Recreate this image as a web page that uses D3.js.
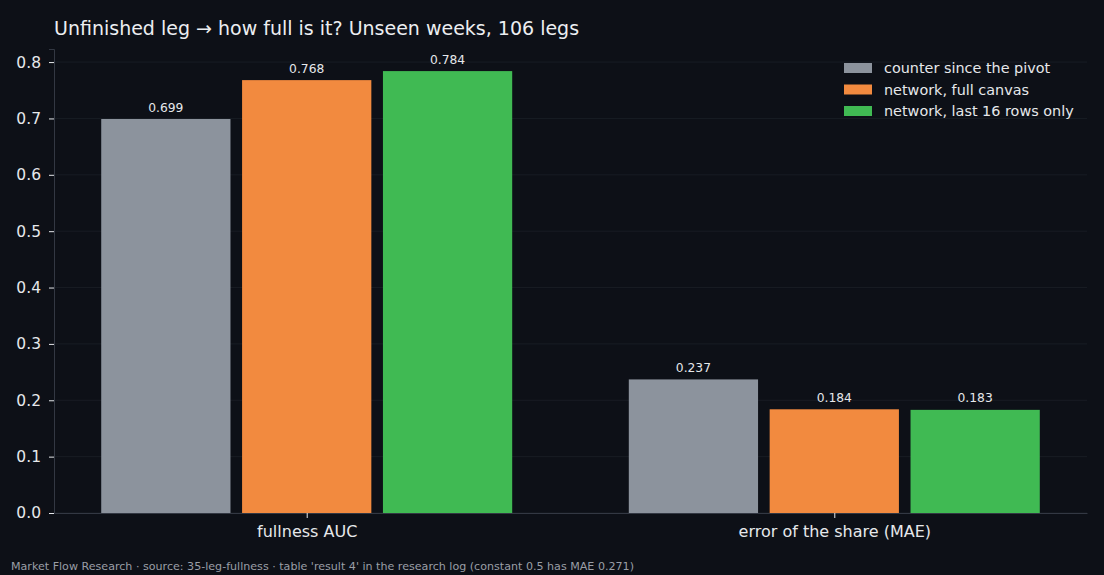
<!DOCTYPE html>
<html lang="en">
<head>
    <meta charset="utf-8">
    <title>Unfinished leg fullness</title>
    <style>
        html, body {
            margin: 0;
            padding: 0;
            background: #0d1017;
        }

        svg text {
            font-family: "DejaVu Sans", sans-serif;
        }
    </style>
</head>
<body>
<script src="https://cdn.jsdelivr.net/npm/d3@7/dist/d3.min.js"></script>
<script>
    // chart values
    const categories = ["fullness AUC", "error of the share (MAE)"];
    const seriesNames = ["counter since the pivot", "network, full canvas", "network, last 16 rows only"];
    const seriesColors = ["#8c939d", "#f28a3f", "#40ba53"];
    const seriesValues = [
        [0.699, 0.237],
        [0.768, 0.184],
        [0.784, 0.183]
    ];
    const yTicks = [0.0, 0.1, 0.2, 0.3, 0.4, 0.5, 0.6, 0.7, 0.8];

    const width = 1104, height = 575;
    const margin = {top: 49, right: 17, bottom: 62, left: 54};

    const svg = d3.select("body").append("svg")
        .attr("width", width)
        .attr("height", height)
        .style("display", "block");

    svg.append("rect")
        .attr("width", width)
        .attr("height", height)
        .attr("fill", "#0d1017");

    // bars sit at category index +- offset, like a grouped matplotlib bar plot
    const offset = 0.267, barWidth = 0.245;
    const x = d3.scaleLinear()
        .domain([-0.479, 1.479])
        .range([margin.left, width - margin.right]);

    const yMax = d3.max(seriesValues.flat()) * 1.05;
    const y = d3.scaleLinear()
        .domain([0, yMax])
        .range([height - margin.bottom, margin.top]);

    // grid
    svg.append("g")
        .selectAll("line")
        .data(yTicks)
        .join("line")
        .attr("x1", margin.left)
        .attr("x2", width - margin.right)
        .attr("y1", d => y(d))
        .attr("y2", d => y(d))
        .attr("stroke", "#181c24")
        .attr("stroke-width", 1);

    // bars
    const bars = [];
    seriesValues.forEach((vals, s) => {
        vals.forEach((v, c) => {
            bars.push({s, c, v, cx: c + (s - 1) * offset});
        });
    });

    svg.append("g")
        .selectAll("rect")
        .data(bars)
        .join("rect")
        .attr("x", d => x(d.cx - barWidth / 2))
        .attr("width", d => x(barWidth) - x(0))
        .attr("y", d => y(d.v))
        .attr("height", d => y(0) - y(d.v))
        .attr("fill", d => seriesColors[d.s]);

    svg.append("g")
        .selectAll("text")
        .data(bars)
        .join("text")
        .attr("x", d => x(d.cx))
        .attr("y", d => y(d.v) - 7.5)
        .attr("text-anchor", "middle")
        .attr("font-size", 12.3)
        .attr("fill", "#e6e8eb")
        .text(d => d.v.toFixed(3));

    // y axis
    const yAxis = svg.append("g")
        .attr("transform", `translate(${margin.left},0)`)
        .call(d3.axisLeft(y).tickValues(yTicks).tickFormat(d3.format(".1f")).tickSize(5).tickPadding(8));
    yAxis.select(".domain").attr("stroke", "#333843");
    yAxis.selectAll(".tick line").attr("stroke", "#e6e8eb");
    yAxis.selectAll(".tick text")
        .attr("fill", "#e6e8eb")
        .attr("font-size", 15.5)
        .attr("font-family", "DejaVu Sans, sans-serif");

    // x axis
    const xAxis = svg.append("g")
        .attr("transform", `translate(0,${height - margin.bottom})`)
        .call(d3.axisBottom(x).tickValues([0, 1]).tickFormat(i => categories[i]).tickSize(5).tickPadding(8).tickSizeOuter(0));
    xAxis.select(".domain").attr("stroke", "#333843");
    xAxis.selectAll(".tick line").attr("stroke", "#e6e8eb");
    xAxis.selectAll(".tick text")
        .attr("fill", "#e6e8eb")
        .attr("font-size", 16)
        .attr("font-family", "DejaVu Sans, sans-serif");

    // title
    svg.append("text")
        .attr("x", margin.left)
        .attr("y", 34.5)
        .attr("font-size", 19)
        .attr("fill", "#eceef1")
        .text("Unfinished leg \u2192 how full is it? Unseen weeks, 106 legs");

    // legend
    const legend = svg.append("g")
        .attr("transform", "translate(844,63)");
    const item = legend.selectAll("g")
        .data(seriesNames)
        .join("g")
        .attr("transform", (d, i) => `translate(0,${i * 21.5})`);
    item.append("rect")
        .attr("width", 28)
        .attr("height", 10)
        .attr("fill", (d, i) => seriesColors[i]);
    item.append("text")
        .attr("x", 40)
        .attr("y", 10)
        .attr("font-size", 14.4)
        .attr("fill", "#e6e8eb")
        .text(d => d);

    // footer
    svg.append("text")
        .attr("x", 11)
        .attr("y", 570)
        .attr("font-size", 11.1)
        .attr("fill", "#9a9ea6")
        .text("Market Flow Research \u00b7 source: 35-leg-fullness \u00b7 table 'result 4' in the research log (constant 0.5 has MAE 0.271)");
</script>
</body>
</html>
